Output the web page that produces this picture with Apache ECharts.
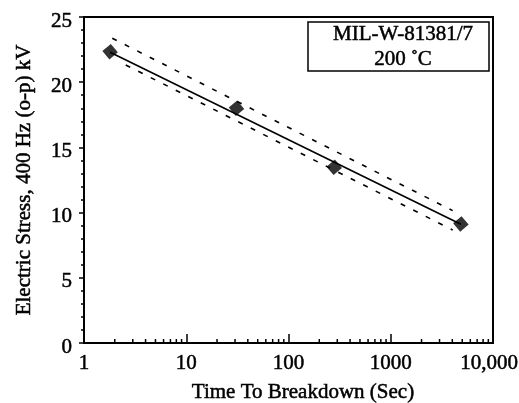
<!DOCTYPE html>
<html><head><meta charset="utf-8">
<script src="https://cdn.jsdelivr.net/npm/echarts@6/dist/echarts.min.js"></script>
<style>html,body{margin:0;padding:0;background:#fff}#c{width:519px;height:403px}</style>
</head><body><div id="c"></div>
<script>
// Measured data points (time to breakdown, s ; electric stress, kV)
var pointTimes = [1.8, 31, 280, 4850];
var pointStress = [22.34, 18.0, 13.47, 9.13];
// Regression line (solid)
var fitTimes = [1.8, 4850];
var fitStress = [22.3, 9.1];
// Confidence bounds (dashed)
var upperTimes = [1.89, 4030];
var upperStress = [23.37, 10.15];
var lowerTimes = [2.56, 4030];
var lowerStress = [21.32, 8.67];
// Axis ticks
var xMinorTicks = [2,3,4,5,6,7,8,9,20,30,40,50,60,70,80,90,200,300,400,500,600,700,800,900,2000,3000,4000,5000,6000,7000,8000,9000];
var xTickLabels = {1:'1',10:'10',100:'100',1000:'1000',10000:'10,000'};
var legendLines = ['MIL-W-81381/7', '200 \u02DAC'];

function zip(a,b){return a.map(function(v,i){return [v,b[i]];});}
var FONT = "'Liberation Serif','Times New Roman',serif";
var FS = 21, FW = 'normal';
var TB = {textBorderColor:'#000',textBorderWidth:0.5};
function ts(extra){var o={fontFamily:FONT,fontSize:FS,fontWeight:FW,color:'#000',textBorderColor:'#000',textBorderWidth:0.5};for(var k in extra)o[k]=extra[k];return o;}
var chart = echarts.init(document.getElementById('c'));
chart.setOption({
  backgroundColor:'#fff',
  animation:false,
  textStyle:{fontFamily:FONT,color:'#000'},
  grid:{left:84,right:26,top:17,bottom:60,show:true,borderColor:'#000',borderWidth:2,outerBoundsMode:'none',containLabel:false},
  xAxis:{type:'log',logBase:10,min:1,max:10000,
    name:'Time To Breakdown (Sec)',nameLocation:'middle',nameGap:39,
    nameTextStyle:ts({padding:[0,0,0,29]}),
    axisLine:{lineStyle:{color:'#000',width:2}},
    axisTick:{inside:true,length:9,lineStyle:{color:'#000',width:1.5}},
    axisLabel:ts({margin:10,
      formatter:function(v){var t=xTickLabels[Math.round(v)]||''; return Math.round(v)===10000?'{r|'+t+'}':t;},
      rich:{r:ts({padding:[0,8,0,0]})}}),
    splitLine:{show:false},minorTick:{show:false}},
  yAxis:{type:'value',min:0,max:25,interval:5,
    name:'Electric Stress, 400 Hz (o-p) kV',nameLocation:'middle',nameGap:49,
    nameTextStyle:ts({}),
    axisLine:{show:true,lineStyle:{color:'#000',width:2}},
    axisTick:{show:true,inside:false,length:5,lineStyle:{color:'#000',width:1.5}},
    minorTick:{show:true,splitNumber:5,length:3,lineStyle:{color:'#000',width:1.5}},
    axisLabel:ts({margin:12,verticalAlign:'top',lineHeight:8}),
    splitLine:{show:false}},
  graphic:[{type:'group',children:[
    {type:'rect',shape:{x:308,y:22,width:181,height:49},style:{fill:'#fff',stroke:'#000',lineWidth:1.5},z:10},
    {type:'text',x:403,y:47,z:11,style:{text:legendLines.join('\n'),fontFamily:FONT,fontSize:FS,fontWeight:FW,lineHeight:25,fill:'#000',stroke:'#000',lineWidth:0.5,align:'center',verticalAlign:'middle'}}
  ]}],
  series:[
    {type:'line',data:zip(fitTimes,fitStress),symbol:'none',lineStyle:{color:'#000',width:1.6},z:2},
    {type:'line',data:zip(upperTimes,upperStress),symbol:'none',lineStyle:{color:'#000',width:1.6,type:[5,9]},z:2},
    {type:'line',data:zip(lowerTimes,lowerStress),symbol:'none',lineStyle:{color:'#000',width:1.6,type:[5,9]},z:2},
    {type:'scatter',data:zip(pointTimes,pointStress),symbol:'rect',symbolSize:11,symbolRotate:40,
      itemStyle:{color:'#000'},z:3},
    {type:'custom',data:xMinorTicks.map(function(v){return [v,0];}),clip:false,silent:true,z:4,
      renderItem:function(params,api){
        var p=api.coord([api.value(0),0]);
        return {type:'line',shape:{x1:p[0],y1:p[1],x2:p[0],y2:p[1]-4},style:{stroke:'#000',lineWidth:1.5}};
      }}
  ]
});
</script></body></html>
